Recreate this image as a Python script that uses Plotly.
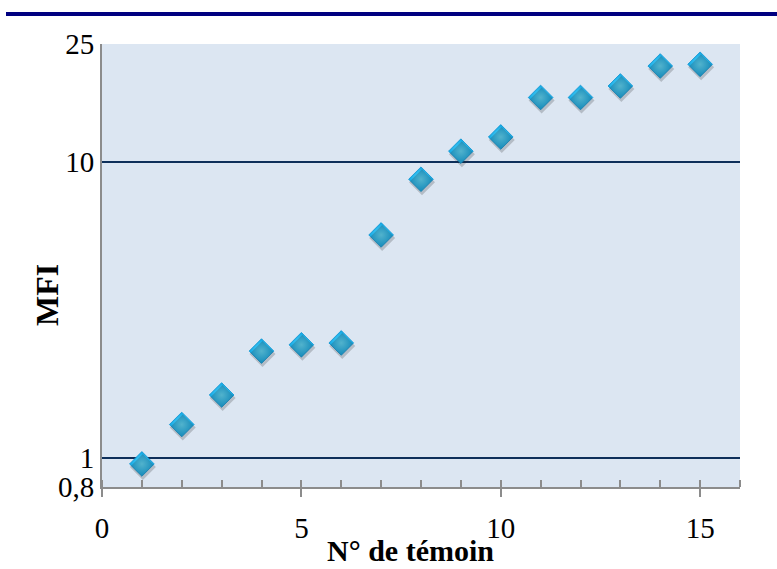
import plotly.graph_objects as go
import math

# Control sample number and measured MFI
temoin = [1, 2, 3, 4, 5, 6, 7, 8, 9, 10, 11, 12, 13, 14, 15]
mfi = [0.957, 1.30, 1.635, 2.30, 2.415, 2.45, 5.67, 8.74, 10.87, 12.14,
       16.5, 16.5, 18.04, 21.07, 21.35]

x_ticks = [0, 5, 10, 15]
y_ticks = [0.8, 1, 10, 25]
y_tick_text = ["0,8", "1", "10", "25"]
y_grid = [1, 10]

X_RANGE = [0, 16]
Y_RANGE = [math.log10(0.8), math.log10(25)]

W, H = 777, 569
M_L, M_R, M_T, M_B = 102, 37, 44, 82
plot_w = W - M_L - M_R
plot_h = H - M_T - M_B

# small pixel offset for the drop shadow under each marker
sx = 1 * (X_RANGE[1] - X_RANGE[0]) / plot_w
sy = 3 * (Y_RANGE[1] - Y_RANGE[0]) / plot_h

serif = "Liberation Serif"

fig = go.Figure()

# drop shadow
fig.add_trace(go.Scatter(
    x=temoin, y=mfi, mode="markers", xaxis="x2", yaxis="y3",
    marker=dict(symbol="diamond", size=20, color="rgba(40,40,40,0.22)",
                line=dict(width=0)),
    hoverinfo="skip", showlegend=False,
))

# data points
fig.add_trace(go.Scatter(
    x=temoin, y=mfi, mode="markers",
    marker=dict(symbol="diamond", size=19, color="#0ea6e4",
                gradient=dict(type="radial", color="#5edafb"),
                line=dict(width=0.8, color="#0a92cf")),
    showlegend=False,
))

fig.update_layout(
    width=W, height=H,
    margin=dict(l=M_L, r=M_R, t=M_T, b=M_B, pad=0, autoexpand=False),
    paper_bgcolor="white",
    plot_bgcolor="#dce6f2",
    font=dict(family=serif, color="black"),
    xaxis=dict(
        range=X_RANGE, tickvals=x_ticks, ticks="outside", ticklen=8,
        tickwidth=2, tickcolor="#8c8c8c",
        minor=dict(dtick=1, tick0=0, ticks="inside", ticklen=7,
                   tickwidth=2, tickcolor="#8c8c8c", showgrid=False),
        showline=True, linecolor="#8c8c8c", linewidth=2,
        showgrid=False, zeroline=False, automargin=False,
        tickfont=dict(size=29, family=serif),
        ticklabelstandoff=6,
    ),
    yaxis=dict(
        type="log", range=Y_RANGE, tickvals=y_ticks, ticktext=y_tick_text,
        ticks="", showline=True, linecolor="#8c8c8c", linewidth=2,
        showgrid=False, zeroline=False, automargin=False,
        tickfont=dict(size=29, family=serif),
    ),
    yaxis2=dict(
        type="log", range=Y_RANGE, overlaying="y", tickvals=y_grid,
        showgrid=True, gridcolor="#0e2f5a", gridwidth=2,
        showticklabels=False, ticks="", showline=False, zeroline=False,
    ),
    xaxis2=dict(
        range=[X_RANGE[0] - sx, X_RANGE[1] - sx], overlaying="x",
        visible=False,
    ),
    yaxis3=dict(
        type="log", range=[Y_RANGE[0] + sy, Y_RANGE[1] + sy],
        overlaying="y", visible=False,
    ),
    shapes=[dict(
        type="line", xref="paper", yref="paper",
        x0=(6 - M_L) / plot_w, x1=(W - M_L) / plot_w,
        y0=(H - M_B - 14) / plot_h, y1=(H - M_B - 14) / plot_h,
        line=dict(color="#000080", width=4),
    )],
    annotations=[
        dict(text="<b>N° de témoin</b>", xref="paper", yref="paper",
             x=(410 - M_L) / plot_w, y=(H - M_B - 568) / plot_h,
             xanchor="center", yanchor="bottom", showarrow=False,
             borderpad=0,
             font=dict(size=30, family=serif)),
        dict(text="<b>MFI</b>", xref="paper", yref="paper",
             x=(47 - M_L) / plot_w, y=(H - M_B - 295) / plot_h,
             xanchor="center", yanchor="middle", textangle=-90,
             showarrow=False, font=dict(size=32, family=serif)),
    ],
)

# a dummy trace keeps the grid axis active
fig.add_trace(go.Scatter(x=[None], y=[None], yaxis="y2", showlegend=False,
                         hoverinfo="skip"))

fig.write_html("out.html")
